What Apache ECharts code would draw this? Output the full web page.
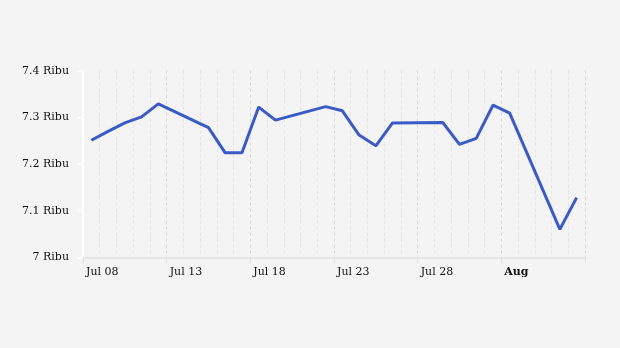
<!DOCTYPE html>
<html>
<head>
<meta charset="utf-8">
<script src="https://cdn.jsdelivr.net/npm/echarts@6/dist/echarts.min.js"></script>
<style>html,body{margin:0;padding:0;background:#f4f4f4;}#c{width:620px;height:348px;}</style>
</head>
<body>
<div id="c"></div>
<script>
var dates = ["2024-07-08","2024-07-09","2024-07-10","2024-07-11","2024-07-12",
  "2024-07-15","2024-07-16","2024-07-17","2024-07-18","2024-07-19",
  "2024-07-22","2024-07-23","2024-07-24","2024-07-25","2024-07-26",
  "2024-07-29","2024-07-30","2024-07-31","2024-08-01","2024-08-02",
  "2024-08-05","2024-08-06"];
var values = [7.251,7.270,7.288,7.301,7.329,
  7.278,7.224,7.224,7.322,7.294,
  7.323,7.314,7.262,7.239,7.288,
  7.289,7.242,7.255,7.326,7.309,
  7.060,7.128];
var xTickLabels = ["Jul 08","Jul 13","Jul 18","Jul 23","Jul 28","Aug",""];
var yTickLabels = ["7 Ribu","7.1 Ribu","7.2 Ribu","7.3 Ribu","7.4 Ribu"];
var startDate = "2024-07-08";

var DAY = 86400000;
var seriesData = dates.map(function (d, i) {
  // timestamps at midday, expressed as day offset from the axis start
  var x = (Date.parse(d + "T12:00:00Z") - Date.parse(startDate + "T00:00:00Z")) / DAY;
  return [x, values[i]];
});

var chart = echarts.init(document.getElementById('c'), null, {renderer: 'canvas'});
chart.setOption({
  backgroundColor: '#f4f4f4',
  animation: false,
  textStyle: {fontFamily: 'DejaVu Serif'},
  grid: {left: 83, right: 35, top: 70.7, bottom: 90.7, containLabel: false},
  xAxis: {
    type: 'value', min: 0, max: 30, interval: 5,
    axisLine: {show: true, lineStyle: {color: '#e0e0e0', width: 1.5}},
    axisTick: {show: true, length: 6, lineStyle: {color: '#e0e0e0', width: 1}},
    minorTick: {show: false, splitNumber: 5},
    splitLine: {show: true, lineStyle: {color: '#d6d6d6', type: [3, 3], width: 1}},
    minorSplitLine: {show: true, lineStyle: {color: '#e4e4e4', type: [3, 3], width: 1}},
    axisLabel: {
      align: 'left', margin: 9, padding: [0, 0, 0, 3],
      fontFamily: 'DejaVu Serif', fontSize: 11, color: '#111',
      formatter: function (v) {
        var s = xTickLabels[Math.round(v / 5)] || '';
        return s === 'Aug' ? '{b|' + s + '}' : s;
      },
      rich: {b: {fontWeight: 'bold', fontFamily: 'DejaVu Serif', fontSize: 11, color: '#111'}}
    }
  },
  yAxis: {
    type: 'value', min: 7.0, max: 7.4, interval: 0.1,
    axisLine: {show: true, lineStyle: {color: '#ffffff', width: 2}},
    axisTick: {show: true, length: 5, lineStyle: {color: '#ffffff', width: 2}},
    splitLine: {show: false},
    axisLabel: {
      margin: 14, fontFamily: 'DejaVu Serif', fontSize: 11, color: '#111',
      formatter: function (v) { return yTickLabels[Math.round((v - 7.0) * 10)]; }
    }
  },
  series: [{
    type: 'line', data: seriesData, symbol: 'none',
    lineStyle: {color: '#3a5bc6', width: 3}, itemStyle: {color: '#3a5bc6'}
  }]
});
</script>
</body>
</html>
